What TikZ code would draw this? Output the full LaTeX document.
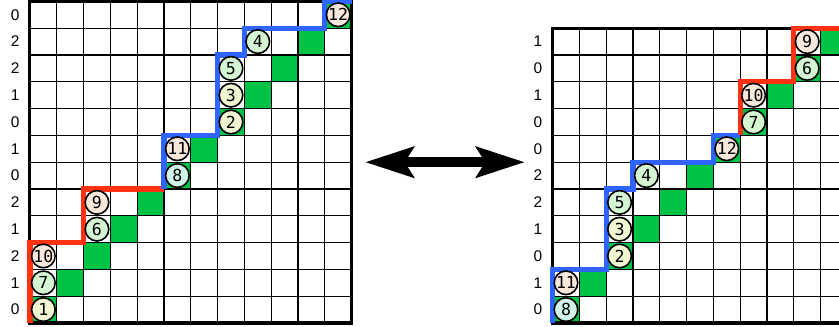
\documentclass[tikz,border=0pt]{standalone}
\usepackage{fontspec}
\setsansfont{Liberation Sans}
\newfontfamily\tokfont{DejaVu Sans Mono}
\usetikzlibrary{arrows.meta}
\definecolor{pathred}{HTML}{FF3311}
\definecolor{pathblue}{HTML}{2F64FF}
\definecolor{diaggreen}{HTML}{00C244}
\definecolor{tokyellow}{HTML}{F1F5D2}
\definecolor{tokgreen}{HTML}{D5F6D3}
\definecolor{tokpeach}{HTML}{F8E7DB}
\definecolor{tokmint}{HTML}{D0F5E6}

\begin{document}
\begin{tikzpicture}[
  x=5mm, y=5mm,
  cellgrid/.style={draw=black, line width=0.55pt, step=5mm},
  frame/.style={draw=black, line width=1.6pt},
  diag/.style={fill=diaggreen},
  route/.style={line width=2.7pt, line join=miter},
  tok/.style={circle, draw=black, line width=0.85pt, minimum size=4.4mm,
              inner sep=0pt, font=\tokfont\fontsize{8.8}{10}\selectfont},
  rowlbl/.style={font=\sffamily\fontsize{8.2}{10}\selectfont},
  bigarrow/.style={{Stealth[length=9mm, width=5.6mm, inset=1.6mm]}-{Stealth[length=9mm, width=5.6mm, inset=1.6mm]},
                   line width=5.3pt}
]
\useasboundingbox (-1.119,-0.149) rectangle (30.187,12.052);

% left matrix
\begin{scope}
  \foreach \i in {0,...,11} \fill[diag] (\i,\i) rectangle ++(1,1);
  \draw[cellgrid] (0,0) grid (12,12);
  \draw[frame] (0,0) rectangle (12,12);
  \foreach \v [count=\r from 0] in {0,1,2,1,2,0,1,0,1,2,2,0}
    \node[rowlbl] (lrow\r) at (-0.55,\r+0.5) {\v};
  \draw[route, pathred] (0,0) -- (0,3) -- (2,3) -- (2,5) -- (5,5);
  \draw[route, pathblue] (5,5) -- (5,7) -- (7,7) -- (7,10) -- (8,10)
    -- (8,11) -- (11,11) -- (11,12) -- (12,12);
  \foreach \n/\c/\r/\f in {1/0/0/tokyellow, 7/0/1/tokgreen, 10/0/2/tokpeach,
      6/2/3/tokgreen, 9/2/4/tokpeach, 8/5/5/tokmint, 11/5/6/tokpeach,
      2/7/7/tokyellow, 3/7/8/tokyellow, 5/7/9/tokgreen, 4/8/10/tokgreen,
      12/11/11/tokpeach}
    \node[tok, fill=\f] (l\n) at (\c+0.5,\r+0.5) {\n};
\end{scope}

% right matrix
\begin{scope}[shift={(19.5,0)}]
  \foreach \i in {0,...,10} \fill[diag] (\i,\i) rectangle ++(1,1);
  \draw[cellgrid] (0,0) grid (11,11);
  \draw[frame] (0,0) rectangle (11,11);
  \foreach \v [count=\r from 0] in {0,1,0,1,2,2,0,0,1,0,1}
    \node[rowlbl] (rrow\r) at (-0.55,\r+0.5) {\v};
  \draw[route, pathblue] (0,0) -- (0,2) -- (2,2) -- (2,5) -- (3,5)
    -- (3,6) -- (6,6) -- (6,7) -- (7,7);
  \draw[route, pathred] (7,7) -- (7,9) -- (9,9) -- (9,11) -- (11,11);
  \foreach \n/\c/\r/\f in {8/0/0/tokmint, 11/0/1/tokpeach, 2/2/2/tokyellow,
      3/2/3/tokyellow, 5/2/4/tokgreen, 4/3/5/tokgreen, 12/6/6/tokpeach,
      7/7/7/tokgreen, 10/7/8/tokpeach, 6/9/9/tokgreen, 9/9/10/tokpeach}
    \node[tok, fill=\f] (r\n) at (\c+0.5,\r+0.5) {\n};
\end{scope}

\coordinate (swapL) at (12.5,6);
\coordinate (swapR) at (18.47,6);
\draw[bigarrow] (swapL) -- (swapR);
\end{tikzpicture}
\end{document}
